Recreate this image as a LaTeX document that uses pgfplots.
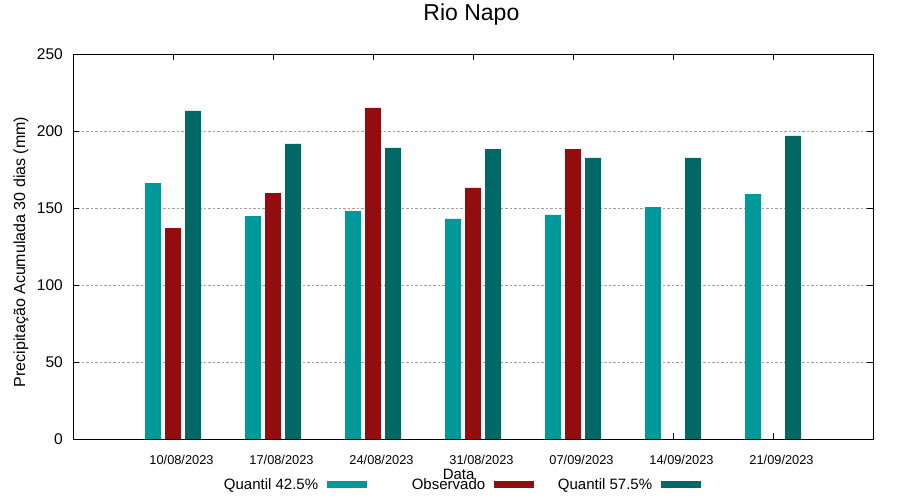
\documentclass[border=0pt]{standalone}
\usepackage{fontspec}
\setmainfont{Liberation Sans}
\usepackage{pgfplots}
\pgfplotsset{compat=1.18}
\definecolor{qlow}{RGB}{0,153,153}
\definecolor{obs}{RGB}{148,13,14}
\definecolor{qhigh}{RGB}{0,105,101}
\definecolor{gridgray}{RGB}{160,160,160}
\begin{document}
\begin{tikzpicture}
\path[use as bounding box] (-73pt,-61pt) rectangle (827pt,439pt);
\begin{axis}[
  at={(0,0)}, anchor=south west,
  scale only axis, width=800pt, height=385pt,
  xmin=-1, xmax=7, ymin=0, ymax=250,
  ybar=4pt, bar width=16pt,
  xtick={0,1,2,3,4,5,6},
  xticklabels={10/08/2023,17/08/2023,24/08/2023,31/08/2023,07/09/2023,14/09/2023,21/09/2023},
  ytick={0,50,100,150,200,250},
  tick align=inside, tick pos=both,
  major tick length=6pt,
  axis line style={line width=0.9pt},
  every tick/.style={black, line width=0.9pt},
  ymajorgrids,
  grid style={gridgray, line width=0.8pt, dash pattern=on 2.5pt off 2pt},
  /pgf/number format/assume math mode=true,
  xticklabel style={font=\fontsize{12.8}{15}\selectfont, anchor=base, yshift=-26pt, xshift=8.5pt},
  yticklabel style={font=\fontsize{15.5}{18}\selectfont, anchor=east, inner sep=0pt, xshift=-10pt},
  title={Rio Napo},
  title style={font=\fontsize{23}{27}\selectfont, at={(axis description cs:0.498,1)}, anchor=base, yshift=27pt},
  xlabel={Data},
  xlabel style={font=\fontsize{15}{18}\selectfont, at={(axis description cs:0.482,0)}, anchor=base, yshift=-41pt},
  ylabel={Precipitação Acumulada 30 dias (mm)},
  ylabel style={font=\fontsize{16}{19}\selectfont, at={(axis description cs:-0.065,0.486)}, anchor=center},
  legend columns=3,
  legend plot pos=right,
  legend image code/.code={\path (0pt,0pt); \fill[#1] (9pt,-3.5pt) rectangle (49pt,3.5pt);},
  legend style={draw=none, fill=none, inner sep=0pt, column sep=0pt,
    nodes={inner sep=0pt}, font=\fontsize{15}{18}\selectfont,
    at={(axis description cs:0,0)}, anchor=west, xshift=127pt, yshift=-46pt},
]
\addplot[fill=qlow, draw=none] coordinates {(0,166.2) (1,144.8) (2,148) (3,142.9) (4,145.5) (5,150.6) (6,159)};
\addlegendentry{\makebox[118pt][r]{Quantil 42.5\%}}
\addplot[fill=obs, draw=none] coordinates {(0,137) (1,159.7) (2,215) (3,163) (4,188.3)};
\addlegendentry{\makebox[118pt][r]{Observado}}
\addplot[fill=qhigh, draw=none] coordinates {(0,213) (1,191.6) (2,189) (3,188.3) (4,182.5) (5,182.5) (6,196.8)};
\addlegendentry{\makebox[118pt][r]{Quantil 57.5\%}}
\end{axis}
\end{tikzpicture}
\end{document}
